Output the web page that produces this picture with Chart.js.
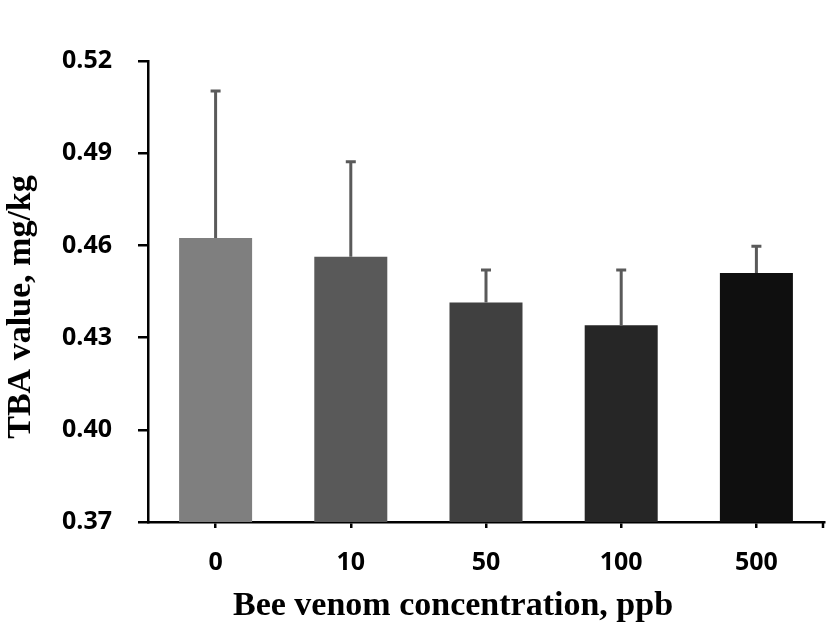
<!DOCTYPE html>
<html>
<head>
<meta charset="utf-8">
<script src="https://cdn.jsdelivr.net/npm/chart.js@4/dist/chart.umd.min.js"></script>
<style>
  html, body { margin: 0; padding: 0; background: #fff; }
  canvas { display: block; }
</style>
</head>
<body>
<canvas id="chart" width="827" height="629"></canvas>
<script>
// data
const concentrations = ["0", "10", "50", "100", "500"];
const tbaMeans = [0.4624, 0.4563, 0.4414, 0.4340, 0.4510];
const tbaErrorTops = [0.5102, 0.4872, 0.4520, 0.4520, 0.4597];
const barColors = ["#7f7f7f", "#595959", "#404040", "#262626", "#0f0f0f"];
const yTicks = [0.37, 0.40, 0.43, 0.46, 0.49, 0.52];

const xTitle = "Bee venom concentration, ppb";
const yTitle = "TBA value, mg/kg";

// upward error bars with caps, plus axis titles
const errorBars = {
    id: "errorBars",
    afterDatasetsDraw(chart) {
        const ctx = chart.ctx;
        const y = chart.scales.y;
        const meta = chart.getDatasetMeta(0);
        ctx.save();
        ctx.strokeStyle = "#5a5a5a";
        ctx.lineWidth = 3;
        meta.data.forEach((bar, i) => {
            const top = y.getPixelForValue(tbaErrorTops[i]);
            ctx.beginPath();
            ctx.moveTo(bar.x, bar.y);
            ctx.lineTo(bar.x, top);
            ctx.moveTo(bar.x - 5, top);
            ctx.lineTo(bar.x + 5, top);
            ctx.stroke();
        });
        ctx.restore();
    },
    afterDraw(chart) {
        const ctx = chart.ctx;
        const area = chart.chartArea;
        ctx.save();
        // closing tick at right end of x axis
        ctx.strokeStyle = "#000";
        ctx.lineWidth = 2.5;
        ctx.beginPath();
        ctx.moveTo(area.right - 1, area.bottom);
        ctx.lineTo(area.right - 1, area.bottom + 6);
        ctx.stroke();

        ctx.fillStyle = "#000";
        ctx.font = "bold 34px 'Liberation Serif', 'Times New Roman', serif";
        ctx.textAlign = "center";
        ctx.textBaseline = "middle";
        ctx.fillText(xTitle, 453, 606);
        ctx.translate(21, 307);
        ctx.rotate(-Math.PI / 2);
        ctx.fillText(yTitle, 0, 0);
        ctx.restore();
    }
};

const config = {
    type: "bar",
    data: {
        labels: concentrations,
        datasets: [{
            data: tbaMeans,
            backgroundColor: barColors,
            borderWidth: 0,
            barPercentage: 0.54,
            categoryPercentage: 1
        }]
    },
    options: {
        responsive: false,
        animation: false,
        layout: {
            padding: { top: 61, right: 3, left: 0, bottom: 0 }
        },
        plugins: {
            legend: { display: false },
            tooltip: { enabled: false }
        },
        scales: {
            x: {
                grid: {
                    display: true,
                    drawOnChartArea: false,
                    offset: false,
                    tickLength: 6,
                    color: "#000",
                    lineWidth: 2.5
                },
                border: { display: true, color: "#000", width: 2.5 },
                ticks: {
                    color: "#000",
                    padding: 20,
                    font: { family: "'Open Sans', sans-serif", size: 25, weight: "bold" }
                },
                afterFit: scale => { scale.height = 629 - 522; }
            },
            y: {
                min: 0.37,
                max: 0.52,
                afterBuildTicks: scale => { scale.ticks = yTicks.map(v => ({ value: v })); },
                grid: {
                    display: true,
                    drawOnChartArea: false,
                    tickLength: 10,
                    color: "#000",
                    lineWidth: 2.5
                },
                border: { display: true, color: "#000", width: 2.5 },
                ticks: {
                    color: "#000",
                    padding: 26,
                    callback: v => v.toFixed(2),
                    font: { family: "'Open Sans', sans-serif", size: 25, weight: "bold" }
                },
                afterFit: scale => { scale.width = 148; }
            }
        }
    },
    plugins: [errorBars]
};

new Chart(document.getElementById("chart").getContext("2d"), config);
</script>
</body>
</html>
